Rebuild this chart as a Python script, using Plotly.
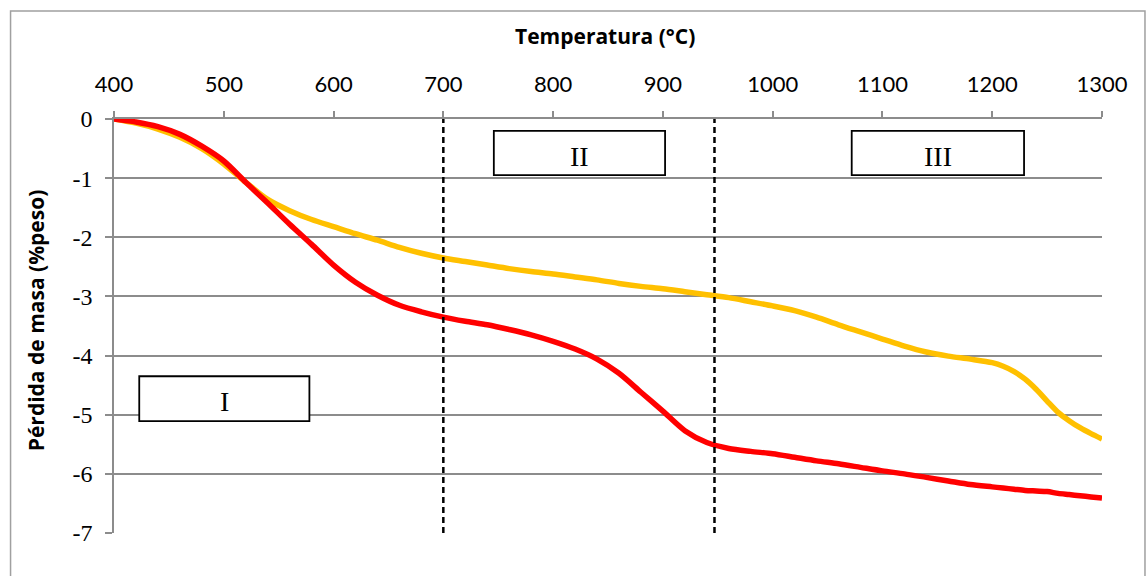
import plotly.graph_objects as go

# Temperature grid (°C) and mass loss (% weight) for the two samples
temperatura = [400, 420, 440, 460, 480, 500, 520, 540, 560, 580,
               600, 620, 640, 660, 680, 700, 720, 740, 760, 780,
               800, 820, 840, 860, 880, 900, 920, 940, 960, 980,
               1000, 1020, 1040, 1060, 1080, 1100, 1120, 1140, 1160, 1180,
               1200, 1210, 1220, 1230, 1240, 1250, 1260, 1270, 1280, 1290, 1300]

perdida_roja = [0.00, -0.05, -0.13, -0.26, -0.46, -0.71, -1.07, -1.42, -1.78, -2.12,
                -2.47, -2.76, -2.98, -3.15, -3.26, -3.35, -3.42, -3.48, -3.56, -3.65,
                -3.76, -3.89, -4.06, -4.30, -4.62, -4.94, -5.27, -5.47, -5.57, -5.62,
                -5.66, -5.72, -5.78, -5.83, -5.89, -5.95, -6.00, -6.06, -6.12, -6.18,
                -6.22, -6.24, -6.26, -6.28, -6.29, -6.30, -6.33, -6.35, -6.37, -6.39, -6.41]

perdida_amarilla = [0.00, -0.07, -0.17, -0.31, -0.50, -0.76, -1.07, -1.36, -1.55, -1.70,
                    -1.82, -1.94, -2.05, -2.17, -2.27, -2.35, -2.41, -2.47, -2.53, -2.58,
                    -2.62, -2.67, -2.72, -2.78, -2.83, -2.87, -2.92, -2.97, -3.02, -3.09,
                    -3.16, -3.24, -3.35, -3.48, -3.60, -3.72, -3.84, -3.94, -4.01, -4.06,
                    -4.12, -4.18, -4.27, -4.40, -4.57, -4.77, -4.96, -5.10, -5.22, -5.32, -5.41]

# Stage limits (°C) and stage label boxes: (label, x0, x1, y0, y1)
limites = [700, 947]
etapas = [("I", 423, 578, -5.11, -4.35),
          ("II", 746, 902, -0.95, -0.20),
          ("III", 1072, 1229, -0.95, -0.20)]

x_ticks = list(range(400, 1301, 100))
y_ticks = list(range(-7, 1))
y_tick_text = [str(v).replace("\u2212", "-") for v in y_ticks]

GRID = "#8c8c8c"

fig = go.Figure()
fig.add_trace(go.Scatter(x=temperatura, y=perdida_amarilla, mode="lines",
                         line=dict(color="#FFC000", width=5.5, shape="spline", smoothing=0.8),
                         showlegend=False))
fig.add_trace(go.Scatter(x=temperatura, y=perdida_roja, mode="lines",
                         line=dict(color="#FF0000", width=5.5, shape="spline", smoothing=0.8),
                         showlegend=False))

shapes = []
for t in limites:
    shapes.append(dict(type="line", xref="x", yref="y", x0=t, x1=t, y0=-7, y1=0.37,
                       line=dict(color="black", width=2.5, dash="6px,4px")))
annotations = []
for label, x0, x1, y0, y1 in etapas:
    shapes.append(dict(type="rect", xref="x", yref="y", x0=x0, x1=x1, y0=y0, y1=y1,
                       fillcolor="white", line=dict(color="black", width=1.8)))
    annotations.append(dict(x=(x0 + x1) / 2, y=(y0 + y1) / 2, xref="x", yref="y",
                            text=label, showarrow=False, yshift=-3,
                            font=dict(family="Liberation Serif", size=28, color="black")))

# outer chart frame
shapes.append(dict(type="rect", xref="paper", yref="paper",
                   x0=-0.1047, x1=1.0435, y0=-0.12, y1=1.261,
                   line=dict(color="#a0a0a0", width=1.5), layer="below"))

annotations.append(dict(text="<b>Temperatura (°C)</b>", xref="paper", yref="paper",
                        x=0.497, y=1.20, showarrow=False, yanchor="middle",
                        font=dict(family="Open Sans", size=21, color="black")))
annotations.append(dict(text="<b>Pérdida de masa (%peso)</b>", xref="paper", yref="paper",
                        x=-0.0795, y=0.515, showarrow=False, textangle=-90,
                        xanchor="center", yanchor="middle",
                        font=dict(family="Open Sans", size=21, color="black")))

fig.update_layout(
    width=1147, height=576,
    margin=dict(l=114, r=45, t=119, b=43),
    paper_bgcolor="white", plot_bgcolor="white",
    shapes=shapes, annotations=annotations,
    xaxis=dict(side="top", range=[400, 1300], tickvals=x_ticks,
               showgrid=False, zeroline=False, showline=True, linecolor=GRID, linewidth=1.5,
               ticks="outside", ticklen=6, tickcolor=GRID, tickwidth=1.5,
               ticklabelstandoff=10,
               tickfont=dict(family="Lato", size=22, color="black")),
    yaxis=dict(range=[-7, 0], tickvals=y_ticks, ticktext=y_tick_text,
               showgrid=True, gridcolor=GRID, gridwidth=1.5, zeroline=False,
               showline=True, linecolor=GRID, linewidth=1.5,
               ticks="outside", ticklen=7, tickcolor=GRID, tickwidth=1.5,
               ticklabelstandoff=8,
               tickfont=dict(family="Liberation Serif", size=24, color="black")),
)

fig.write_html("out.html")
